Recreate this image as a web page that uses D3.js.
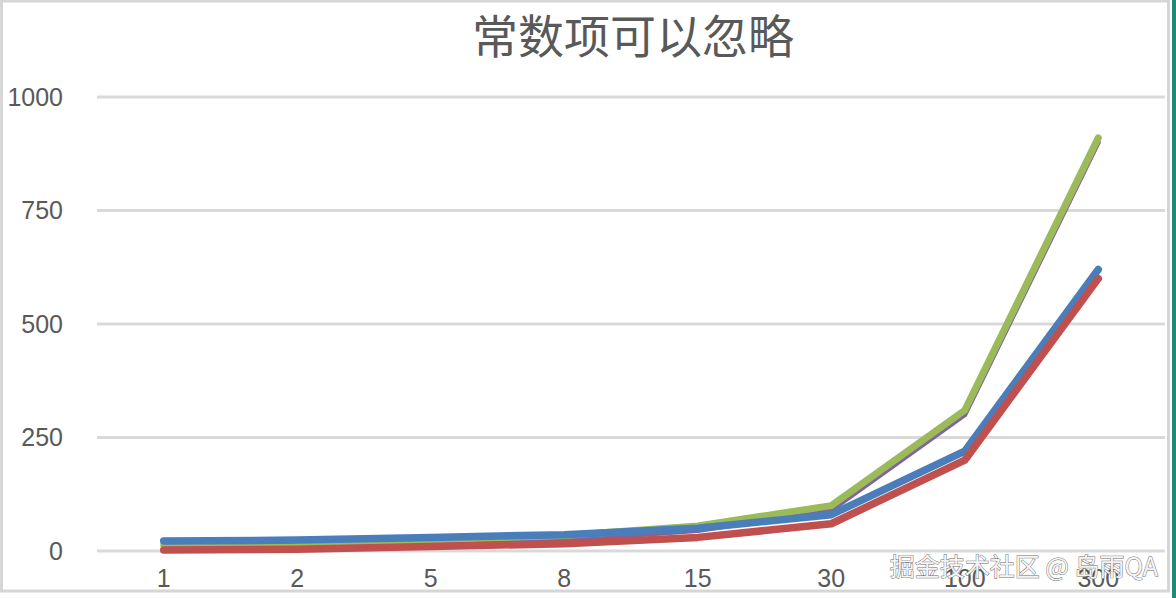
<!DOCTYPE html>
<html>
<head>
<meta charset="utf-8">
<script src="https://cdn.jsdelivr.net/npm/d3@7"></script>
<style>
  body { margin: 0; background: #fff; }
  svg { display: block; }
</style>
</head>
<body>
<svg id="chart" width="1176" height="598"></svg>
<script>
// data
var categories = ["1", "2", "5", "8", "15", "30", "100", "300"];
var purpleVals = [3, 6, 15, 24, 45, 90, 300, 900];
var greenVals  = [13, 16, 25, 34, 55, 100, 310, 910];
var blueVals   = [22, 24, 30, 36, 50, 80, 220, 620];
var redVals    = [2, 4, 10, 16, 30, 60, 200, 600];
var yTicks = [0, 250, 500, 750, 1000];

var svg = d3.select("#chart");
var W = 1176, H = 598;

// outer frame
svg.append("rect").attr("x", 0).attr("y", 0).attr("width", W).attr("height", H).attr("fill", "#fff");
svg.append("rect").attr("x", 1.5).attr("y", 1).attr("width", 1167).attr("height", 590)
    .attr("fill", "none").attr("stroke", "#d6d6d6").attr("stroke-width", 3);
svg.append("rect").attr("x", 1172).attr("y", 0).attr("width", 4).attr("height", H).attr("fill", "#1f8a78");

// plot area (window.top is taken, so no "top" here)
var plotL = 97, plotR = 1165, plotT = 97, plotB = 551;

var x = d3.scalePoint().domain(categories).range([plotL, plotR]).padding(0.5);
var y = d3.scaleLinear().domain([0, 1000]).range([plotB, plotT]);

// gridlines
svg.append("g").selectAll("line").data(yTicks).enter().append("line")
    .attr("x1", plotL).attr("x2", plotR)
    .attr("y1", function(d) { return y(d); })
    .attr("y2", function(d) { return y(d); })
    .attr("stroke", "#d9d9d9").attr("stroke-width", 3);

// y axis labels
svg.append("g").selectAll("text").data(yTicks).enter().append("text")
    .attr("x", 63).attr("y", function(d) { return y(d); })
    .attr("dy", "0.35em").attr("text-anchor", "end")
    .attr("font-family", "Liberation Sans, Arial, sans-serif").attr("font-size", 25)
    .attr("fill", "#595959")
    .text(function(d) { return d; });

// x axis labels
svg.append("g").selectAll("text").data(categories).enter().append("text")
    .attr("x", function(d) { return x(d); }).attr("y", 578)
    .attr("dy", "0.35em").attr("text-anchor", "middle")
    .attr("font-family", "Liberation Sans, Arial, sans-serif").attr("font-size", 25)
    .attr("fill", "#595959")
    .text(function(d) { return d; });

// title
svg.append("text").attr("x", 633).attr("y", 37).attr("dy", "0.35em")
    .attr("text-anchor", "middle")
    .attr("font-family", "Noto Sans CJK SC, sans-serif").attr("font-size", 46)
    .attr("fill", "#595959")
    .text("常数项可以忽略");

// lines, drawn in this order so the overlaps look right
var series = [
    {vals: purpleVals, color: "#8064a2", w: 5},
    {vals: greenVals,  color: "#9bbb59", w: 7},
    {vals: blueVals,   color: "#4a7ebb", w: 7.5},
    {vals: redVals,    color: "#c0504d", w: 7.5}
];

var line = d3.line()
    .x(function(d, i) { return x(categories[i]); })
    .y(function(d) { return y(d); });

svg.append("g").selectAll("path").data(series).enter().append("path")
    .attr("d", function(s) { return line(s.vals); })
    .attr("fill", "none")
    .attr("stroke", function(s) { return s.color; })
    .attr("stroke-width", function(s) { return s.w; })
    .attr("stroke-linejoin", "round")
    .attr("stroke-linecap", "round");

// watermark
svg.append("text").attr("x", 1158).attr("y", 567).attr("dy", "0.35em")
    .attr("text-anchor", "end")
    .attr("font-family", "Noto Sans CJK SC, sans-serif").attr("font-size", 25)
    .attr("fill", "#f4f4f4").attr("stroke", "#6b6b6b").attr("stroke-width", 0.9)
    .attr("paint-order", "stroke")
    .text("掘金技术社区 @ 岛雨QA");
</script>
</body>
</html>
